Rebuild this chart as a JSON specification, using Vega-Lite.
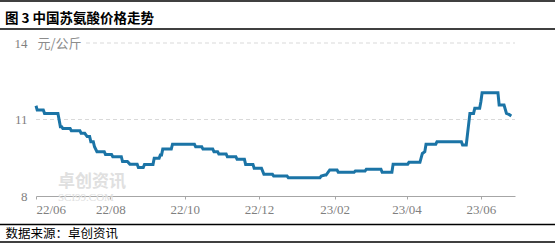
{
  "$schema": "https://vega.github.io/schema/vega-lite/v6.json",
  "width": 479,
  "height": 153,
  "autosize": {"type": "none"},
  "padding": {"left": 36, "top": 43, "right": 40, "bottom": 47},
  "background": "#ffffff",
  "config": {"view": {"stroke": null}},
  "title": {
    "text": "图 3  中国苏氨酸价格走势",
    "anchor": "start",
    "frame": "group",
    "dx": -31,
    "dy": 25,
    "offset": 0,
    "font": "Noto Sans CJK SC",
    "fontSize": 13.5,
    "fontWeight": "bold",
    "color": "#000000"
  },
  "data": {"values": [{}]},
  "resolve": {"axis": {"x": "independent", "y": "independent"}},
  "datasets": {
    "price": [
      {"date": "2022-06-01", "price": 11.54},
      {"date": "2022-06-02", "price": 11.37},
      {"date": "2022-06-07", "price": 11.37},
      {"date": "2022-06-08", "price": 11.24},
      {"date": "2022-06-19", "price": 11.24},
      {"date": "2022-06-21", "price": 10.72},
      {"date": "2022-06-22", "price": 10.72},
      {"date": "2022-06-23", "price": 10.65},
      {"date": "2022-06-29", "price": 10.65},
      {"date": "2022-06-30", "price": 10.56},
      {"date": "2022-07-07", "price": 10.56},
      {"date": "2022-07-08", "price": 10.46},
      {"date": "2022-07-11", "price": 10.46},
      {"date": "2022-07-13", "price": 10.33},
      {"date": "2022-07-15", "price": 10.33},
      {"date": "2022-07-16", "price": 10.13},
      {"date": "2022-07-18", "price": 10.13},
      {"date": "2022-07-19", "price": 9.93},
      {"date": "2022-07-21", "price": 9.74},
      {"date": "2022-07-27", "price": 9.74},
      {"date": "2022-07-28", "price": 9.63},
      {"date": "2022-08-02", "price": 9.63},
      {"date": "2022-08-03", "price": 9.54},
      {"date": "2022-08-10", "price": 9.54},
      {"date": "2022-08-11", "price": 9.35},
      {"date": "2022-08-15", "price": 9.35},
      {"date": "2022-08-17", "price": 9.25},
      {"date": "2022-08-23", "price": 9.25},
      {"date": "2022-08-24", "price": 9.12},
      {"date": "2022-08-28", "price": 9.12},
      {"date": "2022-08-29", "price": 9.24},
      {"date": "2022-09-05", "price": 9.24},
      {"date": "2022-09-06", "price": 9.48},
      {"date": "2022-09-10", "price": 9.48},
      {"date": "2022-09-11", "price": 9.61},
      {"date": "2022-09-12", "price": 9.61},
      {"date": "2022-09-13", "price": 9.84},
      {"date": "2022-09-20", "price": 9.84},
      {"date": "2022-09-21", "price": 10.03},
      {"date": "2022-10-09", "price": 10.03},
      {"date": "2022-10-10", "price": 9.93},
      {"date": "2022-10-15", "price": 9.93},
      {"date": "2022-10-16", "price": 9.84},
      {"date": "2022-10-24", "price": 9.84},
      {"date": "2022-10-25", "price": 9.74},
      {"date": "2022-10-28", "price": 9.74},
      {"date": "2022-10-29", "price": 9.65},
      {"date": "2022-11-04", "price": 9.65},
      {"date": "2022-11-05", "price": 9.54},
      {"date": "2022-11-12", "price": 9.54},
      {"date": "2022-11-13", "price": 9.44},
      {"date": "2022-11-19", "price": 9.44},
      {"date": "2022-11-20", "price": 9.24},
      {"date": "2022-11-26", "price": 9.24},
      {"date": "2022-11-27", "price": 9.09},
      {"date": "2022-12-03", "price": 9.09},
      {"date": "2022-12-05", "price": 8.85},
      {"date": "2022-12-12", "price": 8.85},
      {"date": "2022-12-13", "price": 8.78},
      {"date": "2022-12-24", "price": 8.78},
      {"date": "2022-12-25", "price": 8.72},
      {"date": "2023-01-20", "price": 8.72},
      {"date": "2023-01-21", "price": 8.78},
      {"date": "2023-01-24", "price": 8.82},
      {"date": "2023-01-25", "price": 8.82},
      {"date": "2023-01-28", "price": 9.02},
      {"date": "2023-02-03", "price": 9.02},
      {"date": "2023-02-04", "price": 8.93},
      {"date": "2023-02-17", "price": 8.93},
      {"date": "2023-02-18", "price": 8.98},
      {"date": "2023-02-26", "price": 8.98},
      {"date": "2023-02-27", "price": 9.05},
      {"date": "2023-03-11", "price": 9.05},
      {"date": "2023-03-12", "price": 8.93},
      {"date": "2023-03-20", "price": 8.93},
      {"date": "2023-03-21", "price": 9.25},
      {"date": "2023-04-02", "price": 9.25},
      {"date": "2023-04-03", "price": 9.32},
      {"date": "2023-04-12", "price": 9.32},
      {"date": "2023-04-14", "price": 9.67},
      {"date": "2023-04-16", "price": 9.74},
      {"date": "2023-04-17", "price": 10.03},
      {"date": "2023-04-25", "price": 10.03},
      {"date": "2023-04-26", "price": 10.13},
      {"date": "2023-05-16", "price": 10.13},
      {"date": "2023-05-17", "price": 10.0},
      {"date": "2023-05-20", "price": 10.0},
      {"date": "2023-05-23", "price": 11.24},
      {"date": "2023-05-26", "price": 11.24},
      {"date": "2023-05-27", "price": 11.44},
      {"date": "2023-05-31", "price": 11.44},
      {"date": "2023-06-01", "price": 11.7},
      {"date": "2023-06-02", "price": 12.05},
      {"date": "2023-06-15", "price": 12.05},
      {"date": "2023-06-16", "price": 11.57},
      {"date": "2023-06-20", "price": 11.57},
      {"date": "2023-06-22", "price": 11.24},
      {"date": "2023-06-24", "price": 11.2},
      {"date": "2023-06-26", "price": 11.14}
    ]
  },
  "layer": [
    {
      "mark": {"type": "rule", "stroke": "#d9d9d9", "strokeWidth": 1, "strokeDash": [4, 3]},
      "encoding": {
        "x": {"datum": {"year": 2022, "month": 6, "date": 1, "utc": true}, "type": "temporal", "scale": {"type": "utc", "domain": [{"year": 2022, "month": 6, "date": 1, "utc": true}, {"year": 2023, "month": 6, "date": 29, "utc": true}]}, "axis": null},
        "x2": {"datum": {"year": 2023, "month": 6, "date": 29, "utc": true}},
        "y": {"datum": 11, "type": "quantitative", "scale": {"domain": [8, 14], "nice": false, "zero": false}, "axis": null}
      }
    },
    {
      "mark": {"type": "rule", "stroke": "#d9d9d9", "strokeWidth": 1, "strokeDash": [4, 3]},
      "encoding": {
        "x": {"datum": {"year": 2022, "month": 7, "date": 12, "utc": true}, "type": "temporal", "axis": null},
        "x2": {"datum": {"year": 2023, "month": 6, "date": 29, "utc": true}},
        "y": {"datum": 14, "type": "quantitative", "axis": null}
      }
    },
    {
      "mark": {"type": "text", "font": "Noto Sans CJK SC", "fontSize": 17, "fontWeight": "bold", "color": "#e0e0e0", "align": "left", "baseline": "middle"},
      "encoding": {
        "x": {"datum": {"year": 2022, "month": 6, "date": 19, "utc": true}, "type": "temporal", "axis": null},
        "y": {"datum": 8.56, "type": "quantitative", "axis": null},
        "text": {"value": "卓创资讯"}
      }
    },
    {
      "mark": {"type": "text", "font": "Liberation Serif", "fontSize": 11, "color": "#e0e0e0", "align": "left", "baseline": "middle"},
      "encoding": {
        "x": {"datum": {"year": 2022, "month": 6, "date": 19, "utc": true}, "type": "temporal", "axis": null},
        "y": {"datum": 7.92, "type": "quantitative", "axis": null},
        "text": {"value": "SCI99.COM"}
      }
    },
    {
      "mark": {"type": "rule", "stroke": "#000000", "strokeWidth": 1.5},
      "encoding": {
        "x": {"datum": {"year": 2022, "month": 5, "date": 1, "utc": true}, "type": "temporal", "axis": null},
        "x2": {"datum": {"year": 2023, "month": 8, "date": 1, "utc": true}},
        "y": {"datum": 15.647, "type": "quantitative", "axis": null}
      }
    },
    {
      "mark": {"type": "rule", "stroke": "#000000", "strokeWidth": 1.5},
      "encoding": {
        "x": {"datum": {"year": 2022, "month": 5, "date": 1, "utc": true}, "type": "temporal", "axis": null},
        "x2": {"datum": {"year": 2023, "month": 8, "date": 1, "utc": true}},
        "y": {"datum": 14.549, "type": "quantitative", "axis": null}
      }
    },
    {
      "mark": {"type": "rule", "stroke": "#000000", "strokeWidth": 1.5},
      "encoding": {
        "x": {"datum": {"year": 2022, "month": 5, "date": 1, "utc": true}, "type": "temporal", "axis": null},
        "x2": {"datum": {"year": 2023, "month": 8, "date": 1, "utc": true}},
        "y": {"datum": 6.882, "type": "quantitative", "axis": null}
      }
    },
    {
      "mark": {"type": "rule", "stroke": "#000000", "strokeWidth": 1.5},
      "encoding": {
        "x": {"datum": {"year": 2022, "month": 5, "date": 1, "utc": true}, "type": "temporal", "axis": null},
        "x2": {"datum": {"year": 2023, "month": 8, "date": 1, "utc": true}},
        "y": {"datum": 6.196, "type": "quantitative", "axis": null}
      }
    },
    {
      "data": {"name": "price"},
      "mark": {"type": "line", "color": "#1B74A6", "strokeWidth": 3, "strokeJoin": "miter"},
      "encoding": {
        "x": {
          "field": "date",
          "type": "temporal",
          "axis": {
            "values": [
              {"year": 2022, "month": 6, "date": 1, "utc": true},
              {"year": 2022, "month": 8, "date": 1, "utc": true},
              {"year": 2022, "month": 10, "date": 1, "utc": true},
              {"year": 2022, "month": 12, "date": 1, "utc": true},
              {"year": 2023, "month": 2, "date": 1, "utc": true},
              {"year": 2023, "month": 4, "date": 1, "utc": true},
              {"year": 2023, "month": 6, "date": 1, "utc": true}
            ],
            "format": "%y/%m",
            "grid": false,
            "domainColor": "#a6a6a6",
            "tickColor": "#a6a6a6",
            "tickSize": 3,
            "labelFont": "Liberation Serif",
            "labelFontSize": 13,
            "labelColor": "#7f7f7f",
            "labelPadding": 4,
            "title": "数据来源：卓创资讯",
            "titleFont": "Noto Sans CJK SC",
            "titleFontSize": 12.5,
            "titleFontWeight": "normal",
            "titleColor": "#000000",
            "titleX": -31,
            "titleY": 37,
            "titleAlign": "left",
            "titleAnchor": "start",
            "titleBaseline": "middle"
          }
        },
        "y": {
          "field": "price",
          "type": "quantitative",
          "axis": {
            "values": [8, 11, 14],
            "grid": false,
            "domain": false,
            "ticks": false,
            "labelFont": "Liberation Serif",
            "labelFontSize": 13,
            "labelColor": "#7f7f7f",
            "labelPadding": 9,
            "title": "元/公斤",
            "titleFont": "Noto Sans CJK SC",
            "titleFontSize": 13,
            "titleFontWeight": "normal",
            "titleColor": "#8c8c8c",
            "titleAngle": 0,
            "titleX": 1,
            "titleY": 0,
            "titleAlign": "left",
            "titleBaseline": "middle"
          }
        }
      }
    }
  ]
}
